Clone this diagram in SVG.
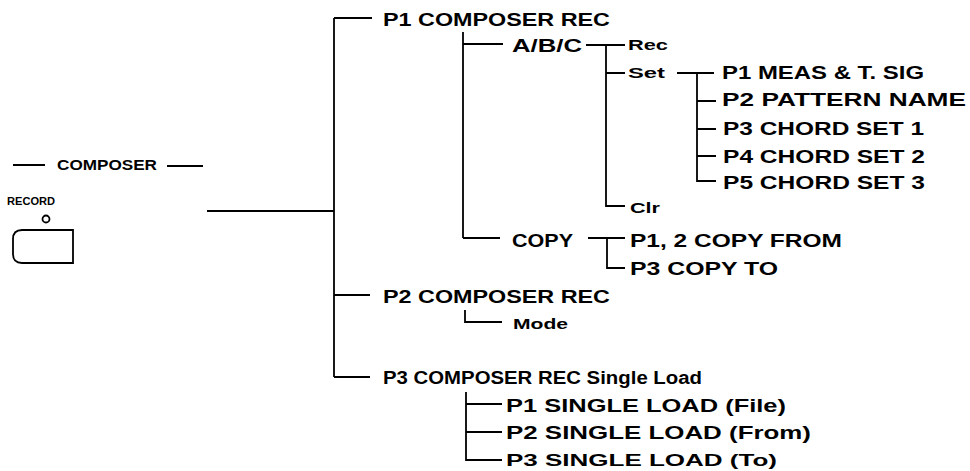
<svg xmlns="http://www.w3.org/2000/svg" width="970" height="471" viewBox="0 0 970 471">
<style>
.t{font-family:"Liberation Sans",Arial,sans-serif;font-weight:bold;font-size:17.5px;fill:#000}
.s{font-size:14.5px}
.c{fill:none;stroke:#000;stroke-width:1.8}
</style>
<rect width="970" height="471" fill="#fff"/>
<g id="composer-panel">
<path class="c" d="M13,165 H45 M167,166 H203"/>
<text class="t" x="57" y="170" style="font-size:14.5px" textLength="100" lengthAdjust="spacingAndGlyphs">COMPOSER</text>
<text class="t" x="7" y="205" style="font-size:10.5px" textLength="48" lengthAdjust="spacingAndGlyphs">RECORD</text>
<circle class="c" cx="46" cy="219" r="3.5" style="stroke-width:1.8"/>
<path class="c" d="M73,230 H22 Q13,230 13,239 V254 Q13,263 22,263 H73 Z"/>
</g>
<g id="connectors">
<path class="c" d="M207,211 H334 M334,18 V377 M334,18 H372 M334,295 H370 M334,377 H370"/>
<path class="c" d="M463,32 V238 M463,44 H503 M463,238 H500"/>
<path class="c" d="M586,45 H625 M606,45 V206 H625 M606,73 H625"/>
<path class="c" d="M677,73 H714 M697,73 V181 H716 M697,101 H716 M697,129 H716 M697,156 H716"/>
<path class="c" d="M588,238 H625 M607,238 V268 H625"/>
<path class="c" d="M465,310 V322 H502"/>
<path class="c" d="M466,392 V460 H502 M466,404 H502 M466,432 H502"/>
</g>
<g id="p1-composer-rec"><text class="t" x="383" y="26" textLength="227" lengthAdjust="spacingAndGlyphs">P1 COMPOSER REC</text></g>
<g id="abc"><text class="t" x="512" y="52" textLength="70" lengthAdjust="spacingAndGlyphs">A/B/C</text></g>
<g id="rec"><text class="t s" x="628" y="50" textLength="40" lengthAdjust="spacingAndGlyphs">Rec</text></g>
<g id="set"><text class="t s" x="628" y="78" textLength="37" lengthAdjust="spacingAndGlyphs">Set</text></g>
<g id="p1-meas"><text class="t" x="722" y="79" textLength="202" lengthAdjust="spacingAndGlyphs">P1 MEAS &amp; T. SIG</text></g>
<g id="p2-pattern"><text class="t" x="722" y="106" textLength="244" lengthAdjust="spacingAndGlyphs">P2 PATTERN NAME</text></g>
<g id="p3-chord"><text class="t" x="723" y="135" textLength="201" lengthAdjust="spacingAndGlyphs">P3 CHORD SET 1</text></g>
<g id="p4-chord"><text class="t" x="723" y="163" textLength="202" lengthAdjust="spacingAndGlyphs">P4 CHORD SET 2</text></g>
<g id="p5-chord"><text class="t" x="723" y="189" textLength="202" lengthAdjust="spacingAndGlyphs">P5 CHORD SET 3</text></g>
<g id="clr"><text class="t" x="630" y="213" style="font-size:15px" textLength="30" lengthAdjust="spacingAndGlyphs">Clr</text></g>
<g id="copy"><text class="t" x="512" y="247" textLength="61" lengthAdjust="spacingAndGlyphs">COPY</text></g>
<g id="copy-from"><text class="t" x="630" y="247" textLength="212" lengthAdjust="spacingAndGlyphs">P1, 2 COPY FROM</text></g>
<g id="copy-to"><text class="t" x="630" y="275" textLength="148" lengthAdjust="spacingAndGlyphs">P3 COPY TO</text></g>
<g id="p2-composer-rec"><text class="t" x="383" y="303" textLength="227" lengthAdjust="spacingAndGlyphs">P2 COMPOSER REC</text></g>
<g id="mode"><text class="t" x="513" y="329" style="font-size:15.5px" textLength="55" lengthAdjust="spacingAndGlyphs">Mode</text></g>
<g id="p3-composer-rec"><text class="t" x="383" y="384" textLength="319" lengthAdjust="spacingAndGlyphs">P3 COMPOSER REC Single Load</text></g>
<g id="p1-single"><text class="t" x="506" y="412" textLength="280" lengthAdjust="spacingAndGlyphs">P1 SINGLE LOAD (File)</text></g>
<g id="p2-single"><text class="t" x="506" y="439" textLength="305" lengthAdjust="spacingAndGlyphs">P2 SINGLE LOAD (From)</text></g>
<g id="p3-single"><text class="t" x="506" y="466" style="font-size:17px" textLength="271" lengthAdjust="spacingAndGlyphs">P3 SINGLE LOAD (To)</text></g>
</svg>
